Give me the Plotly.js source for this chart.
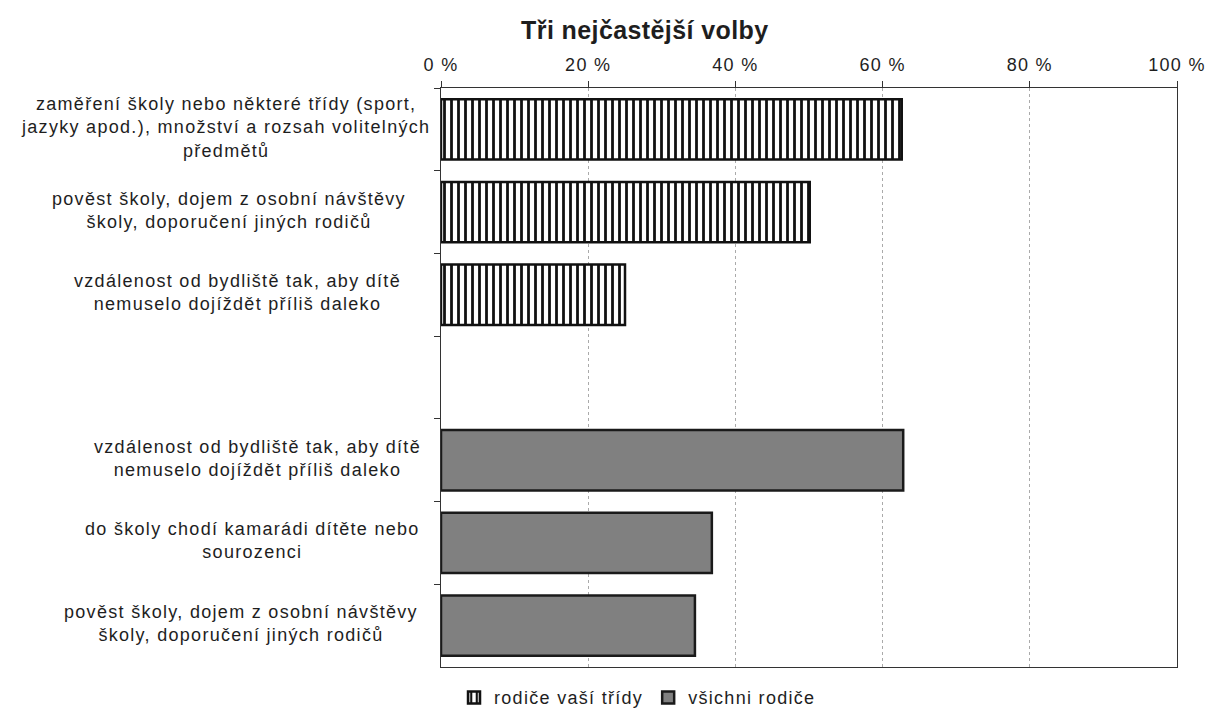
<!DOCTYPE html>
<html>
<head>
<meta charset="utf-8">
<script src="https://cdn.plot.ly/plotly-3.0.1.min.js"></script>
<style>
  html, body { margin: 0; padding: 0; background: #fff; }
  #chart { width: 1212px; height: 712px; }
  /* the scanned original has wide tracking; global so Plotly's text measuring sees it too */
  svg text { letter-spacing: 1.3px; }
  svg text.gtitle { letter-spacing: 0.4px; }
</style>
</head>
<body>
<div id="chart"></div>
<script>
'use strict'
/* Tři nejčastější volby - horizontal bars, two groups with an empty slot between */

/* Data */
var classLabels = [
    "zaměření školy nebo některé třídy (sport,<br>jazyky apod.), množství a rozsah volitelných<br>předmětů",
    "pověst školy, dojem z osobní návštěvy<br>školy, doporučení jiných rodičů",
    "vzdálenost od bydliště tak, aby dítě<br>nemuselo dojíždět příliš daleko"
];
var classValues = [62.6, 50.1, 25];

var allLabels = [
    "vzdálenost od bydliště tak, aby dítě<br>nemuselo dojíždět příliš daleko",
    "do školy chodí kamarádi dítěte nebo<br>sourozenci",
    "pověst školy, dojem z osobní návštěvy<br>školy, doporučení jiných rodičů"
];
var allValues = [62.8, 36.8, 34.5];

var seriesNames = ["rodiče vaší třídy", "všichni rodiče"];
var xTicks = [0, 20, 40, 60, 80, 100];

/* label offsets from the axis (px), as in the original layout */
var classLabelShift = [-9, -33, -38];
var allLabelShift = [-18, -19, -21];

/* Category keys (labels repeat, so keys must be unique) */
var classKeys = classLabels.map(function(l, i){ return "r" + i; });
var allKeys = allLabels.map(function(l, i){ return "v" + i; });
var gapKey = "gap";
var categoryOrder = classKeys.concat([gapKey], allKeys);

var font = "Liberation Sans, Arial, sans-serif";

var classTrace = {
    type: "bar",
    orientation: "h",
    name: seriesNames[0],
    x: classValues.concat([null]),
    y: classKeys.concat([gapKey]),
    marker: {
        color: "white",
        line: {color: "#111", width: 2.5},
        pattern: {shape: "|", fgcolor: "#111", bgcolor: "white", size: 7, solidity: 0.4}
    },
    hoverinfo: "x"
};

var allTrace = {
    type: "bar",
    orientation: "h",
    name: seriesNames[1],
    x: allValues,
    y: allKeys,
    marker: {
        color: "#808080",
        line: {color: "#1a1a1a", width: 2.5}
    },
    hoverinfo: "x"
};

/* Multi-line centred category labels as annotations */
var annotations = [];
function addLabels(keys, labels, shifts){
    keys.forEach(function(k, i){
        annotations.push({
            xref: "paper", yref: "y", x: 0, y: k, xanchor: "right", yanchor: "middle",
            xshift: shifts[i], yshift: 2, align: "center", showarrow: false, text: labels[i],
            font: {family: font, size: 18, color: "#1e1e1e"}
        });
    });
}
addLabels(classKeys, classLabels, classLabelShift);
addLabels(allKeys, allLabels, allLabelShift);

var layout = {
    width: 1212,
    height: 712,
    margin: {l: 441, r: 35, t: 88, b: 45, pad: 0, autoexpand: false},
    paper_bgcolor: "white",
    plot_bgcolor: "white",
    font: {family: font, size: 18, color: "#1e1e1e"},
    title: {
        text: "<b>Tři nejčastější volby</b>",
        font: {family: font, size: 25, color: "#1e1e1e"},
        xref: "container", x: 0.532, xanchor: "center",
        yref: "container", y: 0.958, yanchor: "middle"
    },
    barmode: "overlay",
    bargap: 0.27,
    showlegend: true,
    legend: {
        orientation: "h",
        xref: "container", x: 0.526, xanchor: "center",
        yref: "paper", y: -0.053, yanchor: "middle",
        font: {family: font, size: 18, color: "#1e1e1e"},
        itemwidth: 30,
        tracegroupgap: 0
    },
    xaxis: {
        side: "top",
        range: [0, 100],
        tickvals: xTicks,
        ticktext: xTicks.map(function(v){ return v + " %"; }),
        ticks: "outside",
        ticklen: 6,
        tickcolor: "#333",
        tickfont: {family: font, size: 18, color: "#1e1e1e"},
        ticklabelstandoff: 3,
        showgrid: true,
        gridcolor: "#aaa",
        griddash: "dot",
        gridwidth: 1,
        showline: true,
        linecolor: "#333",
        linewidth: 1,
        mirror: true,
        zeroline: false,
        fixedrange: true
    },
    yaxis: {
        type: "category",
        categoryorder: "array",
        categoryarray: categoryOrder,
        autorange: "reversed",
        showticklabels: false,
        ticks: "outside",
        tickson: "boundaries",
        ticklen: 6,
        tickcolor: "#333",
        showgrid: false,
        showline: true,
        linecolor: "#333",
        linewidth: 1,
        mirror: true,
        zeroline: false,
        fixedrange: true
    },
    annotations: annotations
};

Plotly.newPlot("chart", [classTrace, allTrace], layout, {displayModeBar: false, staticPlot: true});
</script>
</body>
</html>
